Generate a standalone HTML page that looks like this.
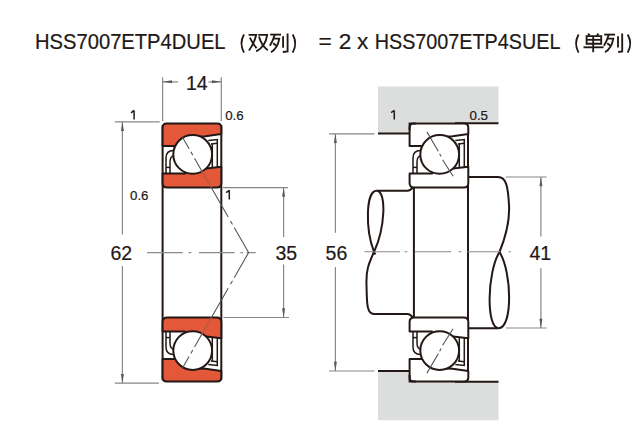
<!DOCTYPE html>
<html><head><meta charset="utf-8">
<style>
html,body{margin:0;padding:0;background:#fff;width:640px;height:440px;overflow:hidden}
svg{display:block}
text{font-family:"Liberation Sans",sans-serif;fill:#231815;stroke:#231815;stroke-width:0.2}
.d{stroke:#231815;stroke-width:2;fill:none;stroke-linejoin:round}
.c{stroke:#231815;stroke-width:1.5;fill:none}
.g{stroke:#888;stroke-width:1.2;fill:none}
.ga{fill:#5a5a5a;stroke:none}
.ctr{stroke:#8a8a8a;stroke-width:1.1;fill:none}
.cl{stroke:#555;stroke-width:1.1;fill:none}
.or{fill:#e65a38}
.wh{fill:#fff}
.lb{--rf:#e4583a}
.rb{--rf:#fff}
</style></head>
<body>
<svg width="640" height="440" viewBox="0 0 640 440">


<!-- ===== TITLE ===== -->
<text x="35" y="49.3" font-size="22.7" textLength="190.6" lengthAdjust="spacingAndGlyphs">HSS7007ETP4DUEL</text>
<text x="318.6" y="49.3" font-size="22.7">=</text>
<text x="338.8" y="49.3" font-size="22.7">2</text>
<text x="357" y="49.3" font-size="22.7">x</text>
<text x="374.7" y="49.3" font-size="22.7" textLength="185.8" lengthAdjust="spacingAndGlyphs">HSS7007ETP4SUEL</text>
<!-- CJK: （双列） -->
<g stroke="#231815" stroke-width="1.85" fill="none" stroke-linecap="butt">
  <path d="M244,34.5 Q238.9,43.5 244,52.6"/>
  <!-- 双 -->
  <path d="M248.6,34.8 H256.2 Q254,44 249,50.5"/>
  <path d="M249.8,37.6 Q253,44 256.6,48.2"/>
  <path d="M258.2,34.8 H267.2 Q265.5,46.5 256.2,51.4"/>
  <path d="M259,36.6 Q261.5,46 267.8,50.2"/>
  <!-- 列 -->
  <path d="M270.2,34.6 H281"/>
  <path d="M274.8,34.6 Q273,41 269.9,45.8"/>
  <path d="M273.3,38.6 H279.3 Q277.5,48.5 271,52.2"/>
  <path d="M273.1,43.2 L276.2,45.6"/>
  <path d="M283.1,36.2 V47.7"/>
  <path d="M287.6,33.4 V51.4 L282.8,52"/>
  <path d="M292.7,34.5 Q297.8,43.5 292.7,52.6"/>
</g>
<g stroke="#231815" stroke-width="1.85" fill="none">
  <path d="M578.6,34.5 Q573.5,43.5 578.6,52.6"/>
  <!-- 单 -->
  <path d="M588.1,33.6 L589.7,35.8"/>
  <path d="M598.5,33.6 L596.8,35.8"/>
  <path d="M586.6,36.1 H601.2 V43.7 H586.6 Z"/>
  <path d="M586.6,39.8 H601.2"/>
  <path d="M593.2,36.1 V52.2"/>
  <path d="M583.5,47.3 H603.6"/>
  <!-- 列 -->
  <path d="M604.2,34.6 H615"/>
  <path d="M608.8,34.6 Q607,41 603.9,45.8"/>
  <path d="M607.3,38.6 H613.3 Q611.5,48.5 605,52.2"/>
  <path d="M607.1,43.2 L610.2,45.6"/>
  <path d="M618,36.2 V47.5"/>
  <path d="M622.2,33.4 V51.4 L618.2,52"/>
  <path d="M627.7,34.5 Q632.8,43.5 627.7,52.6"/>
</g>

<!-- ===== LEFT DIAGRAM ===== -->
<!-- dims -->
<path class="g" d="M162.6,77.3 V121 M221.3,77.3 V121 M162.6,81.8 H178 M208.5,81.8 H221.3"/>
<path class="ga" d="M162.6,81.8 L172,80.3 L172,83.3 Z M221.3,81.8 L211.9,80.3 L211.9,83.3 Z"/>
<text x="186" y="89.7" font-size="19.5">14</text>

<path class="g" d="M114.8,121.8 H159.7 M114.8,383.2 H159 M122.4,122 V234.4 M122.4,266 V383"/>
<path class="ga" d="M122.4,121.8 L120.9,131 L123.9,131 Z M122.4,383.2 L120.9,374 L123.9,374 Z"/>
<text x="110.4" y="259.7" font-size="19.5">62</text>

<path class="g" d="M223,187.6 H288 M223.5,317.5 H289 M283.6,188 V237.2 M283.6,264.5 V317"/>
<path class="ga" d="M283.6,187.6 L282.1,196.8 L285.1,196.8 Z M283.6,317.5 L282.1,308.3 L285.1,308.3 Z"/>
<text x="275.4" y="259.7" font-size="19.5">35</text>

<path d="M134.1,110.4 V119.6 M131,112.9 L134.1,110.4" stroke="#231815" stroke-width="1.5" fill="none"/>
<text x="225.2" y="119.5" font-size="13.3">0.6</text>
<text x="130" y="200" font-size="13.3">0.6</text>
<path d="M229.3,190.3 V199.6 M226.1,192.6 L229.3,190.3" stroke="#231815" stroke-width="1.5" fill="none"/>

<!-- faces -->
<path class="d" d="M162.6,125 V380 M221.3,125 V380"/>
<!-- bearings -->
<g class="lb">
  <g>
    <!-- outer ring -->
    <path class="d" style="fill:var(--rf)" d="M162.6,146 V127.7 Q162.6,123.5 166.8,123.5 H217.1 Q221.3,123.5 221.3,127.7 V134 L205.5,136.2 L199,136.4 L192.8,154.4 L175.4,146 Z"/>
    <!-- inner ring -->
    <path class="d" style="fill:var(--rf)" d="M162.6,173.6 V183 Q162.6,187.5 167.1,187.5 H216.8 Q221.3,187.5 221.3,183 V166.8 L206.2,168.4 L192.8,154.4 L185,173.6 Z"/>
    <!-- cage left -->
    <path class="c" d="M166,173.6 V158 Q166,150.6 173.5,150.6"/>
    <path class="c" d="M170,173.6 V162 Q170,156.5 174,155.5"/>
    <path class="c" d="M166,167.4 H170"/>
    <!-- cage right -->
    <path class="c" d="M208.3,140.6 L217.3,139.6 V167"/>
    <path class="c" d="M211,143.9 L217.3,143.3"/>
    <path class="c" d="M212.3,143.9 V167"/>
    <!-- ball -->
    <circle class="d" cx="192.7" cy="154.4" r="19.4" style="fill:#fff"/>
  </g>
  <g transform="translate(0,505) scale(1,-1)">
    <!-- outer ring -->
    <path class="d" style="fill:var(--rf)" d="M162.6,146 V127.7 Q162.6,123.5 166.8,123.5 H217.1 Q221.3,123.5 221.3,127.7 V134 L205.5,136.2 L199,136.4 L192.8,154.4 L175.4,146 Z"/>
    <!-- inner ring -->
    <path class="d" style="fill:var(--rf)" d="M162.6,173.6 V183 Q162.6,187.5 167.1,187.5 H216.8 Q221.3,187.5 221.3,183 V166.8 L206.2,168.4 L192.8,154.4 L185,173.6 Z"/>
    <!-- cage left -->
    <path class="c" d="M166,173.6 V158 Q166,150.6 173.5,150.6"/>
    <path class="c" d="M170,173.6 V162 Q170,156.5 174,155.5"/>
    <path class="c" d="M166,167.4 H170"/>
    <!-- cage right -->
    <path class="c" d="M208.3,140.6 L217.3,139.6 V167"/>
    <path class="c" d="M211,143.9 L217.3,143.3"/>
    <path class="c" d="M212.3,143.9 V167"/>
    <!-- ball -->
    <circle class="d" cx="192.7" cy="154.4" r="19.4" style="fill:#fff"/>
  </g>
</g>
<!-- center line -->
<path class="ctr" d="M147.1,252.6 H182.7 M188.6,252.6 H191.2 M198.9,252.6 H234.5 M240.4,252.6 H243 M246.6,252.6 H255.8"/>
<!-- contact lines -->
<g><path class="cl" d="M182.5,137.3 L189.1,148.8 M190.8,151.8 L192.8,155.3 M194.5,158.2 L228.2,217 M230.5,221 L232.5,224.5 M234.2,227.5 L248.6,252.6"/></g>
<g transform="translate(0,505.2) scale(1,-1)"><path class="cl" d="M182.5,137.3 L189.1,148.8 M190.8,151.8 L192.8,155.3 M194.5,158.2 L228.2,217 M230.5,221 L232.5,224.5 M234.2,227.5 L248.6,252.6"/></g>
<path d="M201.6,170.8 L211,187 M201.6,334.2 L211,318" stroke="#e4583a" stroke-width="1.6" stroke-opacity="0.7" fill="none"/>
<!-- ===== RIGHT DIAGRAM ===== -->
<path d="M378,86.6 H498.5 V122.6 H409.6 V133.6 H378 Z" fill="#dcdddd"/>
<path d="M378,371 H409.6 V381.5 H498.5 V420.2 H378 Z" fill="#dcdddd"/>
<path class="d" d="M378,133.6 H409.6 M455,123.3 H498.5 M378,371 H409.6 M455,381.7 H498.5"/>
<path d="M394.3,110.4 V119.6 M391.1,112.6 L394.3,110.4" stroke="#231815" stroke-width="1.5" fill="none"/>
<text x="469.5" y="119.6" font-size="13.3">0.5</text>

<!-- 56 dim -->
<path class="g" d="M329,133.8 H374.5 M329,371 H374.5 M335.4,134 V232.8 M335.4,266.9 V370.8"/>
<path class="ga" d="M335.4,133.8 L333.9,143 L336.9,143 Z M335.4,371 L333.9,361.8 L336.9,361.8 Z"/>
<text x="325.6" y="259.7" font-size="19.5">56</text>

<!-- 41 dim -->
<path class="g" d="M505.7,177 H546.6 M506,328 H546.6 M540.9,177.2 V236.4 M540.9,268.2 V327.8"/>
<path class="ga" d="M540.9,177 L539.4,186.2 L542.4,186.2 Z M540.9,328 L539.4,318.8 L542.4,318.8 Z"/>
<text x="529.4" y="259.8" font-size="19.5">41</text>

<!-- shaft -->
<path class="d" d="M376.5,190.8 H407.5 Q410.5,190.8 412.5,187.5"/>
<path class="d" d="M373.2,313.9 H407.5 Q410.5,313.9 412.5,317.3"/>
<path class="d" d="M413.9,187.5 V317.5 M468,125 V380"/>
<path class="d" d="M468,177.1 H498 M468,328.2 H498.5"/>
<!-- left break: S curve & lens -->
<path class="d" d="M376.5,190.8 C387,191 385,228 374,252 C368,265 366,271 366.5,285 C367,300 366,313.9 374,313.9"/>
<path class="d" d="M376.5,190.8 C366,191 365,228 374,252 L375.3,254.5"/>
<!-- right break -->
<path class="d" d="M498,177.1 C506,177.1 508,186 509,205 C510,222 506,236 499.5,252 C487,272 486,328.2 498.5,328.2"/>
<path class="d" d="M499.5,252 C512,272 513,328.2 498.5,328.2"/>

<!-- right bearings -->
<g class="rb">
  <g transform="translate(247,0)">
    <!-- outer ring -->
    <path class="d" style="fill:var(--rf)" d="M162.6,146 V127.7 Q162.6,123.5 166.8,123.5 H217.1 Q221.3,123.5 221.3,127.7 V134 L205.5,136.2 L199,136.4 L192.8,154.4 L175.4,146 Z"/>
    <!-- inner ring -->
    <path class="d" style="fill:var(--rf)" d="M162.6,173.6 V183 Q162.6,187.5 167.1,187.5 H216.8 Q221.3,187.5 221.3,183 V166.8 L206.2,168.4 L192.8,154.4 L185,173.6 Z"/>
    <!-- cage left -->
    <path class="c" d="M166,173.6 V158 Q166,150.6 173.5,150.6"/>
    <path class="c" d="M170,173.6 V162 Q170,156.5 174,155.5"/>
    <path class="c" d="M166,167.4 H170"/>
    <!-- cage right -->
    <path class="c" d="M208.3,140.6 L217.3,139.6 V167"/>
    <path class="c" d="M211,143.9 L217.3,143.3"/>
    <path class="c" d="M212.3,143.9 V167"/>
    <!-- ball -->
    <circle class="d" cx="192.7" cy="154.4" r="19.4" style="fill:#fff"/>
  </g>
  <g transform="translate(247,505) scale(1,-1)">
    <!-- outer ring -->
    <path class="d" style="fill:var(--rf)" d="M162.6,146 V127.7 Q162.6,123.5 166.8,123.5 H217.1 Q221.3,123.5 221.3,127.7 V134 L205.5,136.2 L199,136.4 L192.8,154.4 L175.4,146 Z"/>
    <!-- inner ring -->
    <path class="d" style="fill:var(--rf)" d="M162.6,173.6 V183 Q162.6,187.5 167.1,187.5 H216.8 Q221.3,187.5 221.3,183 V166.8 L206.2,168.4 L192.8,154.4 L185,173.6 Z"/>
    <!-- cage left -->
    <path class="c" d="M166,173.6 V158 Q166,150.6 173.5,150.6"/>
    <path class="c" d="M170,173.6 V162 Q170,156.5 174,155.5"/>
    <path class="c" d="M166,167.4 H170"/>
    <!-- cage right -->
    <path class="c" d="M208.3,140.6 L217.3,139.6 V167"/>
    <path class="c" d="M211,143.9 L217.3,143.3"/>
    <path class="c" d="M212.3,143.9 V167"/>
    <!-- ball -->
    <circle class="d" cx="192.7" cy="154.4" r="19.4" style="fill:#fff"/>
  </g>
</g>
<path class="d" style="stroke-linejoin:miter" d="M409.6,130 V123.5 H416 M409.6,375 V381.5 H416"/>
<!-- center line right -->
<path class="ctr" d="M364.5,251.8 H400 M404.5,251.8 H407.5 M415,251.8 H451.2 M458.5,251.8 H461.5 M467.5,251.8 H500 M508.5,251.8 H511"/>
<!-- contact lines right -->
<path class="cl" d="M426.9,131.9 L438.3,151.3 M439.6,153.8 L441.1,156.4 M442.6,159.8 L453.1,176.3 M426.9,373.1 L438.3,353.7 M439.6,351.2 L441.1,348.6 M442.6,345.2 L453.1,328.7"/>
</svg>
</body></html>
